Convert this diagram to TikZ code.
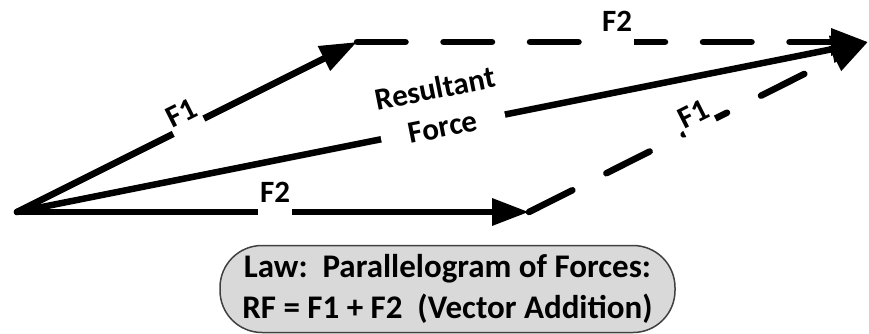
\documentclass[tikz,border=0pt]{standalone}
\usepackage{fontspec}
\setmainfont{Carlito}
\usetikzlibrary{arrows.meta}
\begin{document}
\begin{tikzpicture}[x=1pt,y=-1pt,
  vec/.style={line width=6.5pt, line cap=round, -{Triangle[length=37pt,width=26pt]}},
  dashvec/.style={vec, dash pattern=on 48.5pt off 38pt},
  lab/.style={fill=white, font=\bfseries\fontsize{31}{31}\selectfont, inner xsep=2pt, inner ysep=0pt, text height=21pt, text depth=13pt},
  rflab/.style={fill=white, align=center, font=\bfseries\fontsize{31}{39}\selectfont, inner sep=2pt},
  lawbox/.style={draw=black!75, line width=1.5pt, fill=black!15, rounded corners=42pt, minimum width=455pt, minimum height=87pt, align=center, font=\bfseries\fontsize{33}{41.7}\selectfont, inner sep=0pt}]
\useasboundingbox (0,0) rectangle (869,334);
\coordinate (O) at (17,212);
\coordinate (A) at (357,42);
\coordinate (B) at (529,212);
\coordinate (T) at (868,42);
% dashed sides of the parallelogram
\draw[dashvec] (A) -- (T);
\draw[dashvec] (B) -- (T);
% solid vectors
\draw[vec] (O) -- (A);
\draw[vec] (O) -- (B);
\draw[vec] (O) -- (T);
% labels
\node[lab, anchor=base] (f2top) at (617,32) {F2};
\node[lab, anchor=base] (f2bot) at (275,202.7) {F2};
\node[lab, anchor=base, rotate=26.6] (f1up) at (186.3,121.7) {F1};
\node[lab, anchor=base, rotate=26.6] (f1dash) at (698.3,122.7) {F1};
\node[rflab, rotate=11.3] (rf) at (439.1,107.4) {Resultant\\Force};
% law box
\node[lawbox] (law) at (447.5,289) {Law:\ \ Parallelogram of Forces:\\RF = F1 + F2\ \ (Vector Addition)};
\end{tikzpicture}
\end{document}
